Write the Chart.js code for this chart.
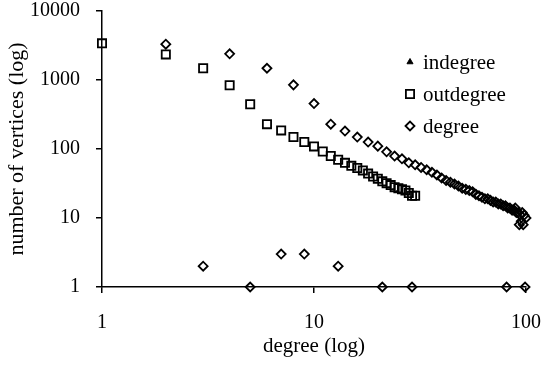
<!DOCTYPE html>
<html>
<head>
<meta charset="utf-8">
<script src="https://cdn.jsdelivr.net/npm/chart.js@4/dist/chart.umd.min.js"></script>
<style>
    html, body { margin: 0; padding: 0; background: #fff; }
    #wrap { width: 544px; height: 366px; }
</style>
</head>
<body>
<div id="wrap"><canvas id="degreeChart"></canvas></div>
<script>
// tick labels
const xTicks = [1, 10, 100];
const yTicks = [1, 10, 100, 1000, 10000];

// indegree: no marks visible in the picture, legend entry only
const indegX = [];
const indegY = [];

// outdegree, degree 1..30
const outdegX = [1, 2, 3, 4, 5, 6, 7, 8, 9, 10, 11, 12, 13, 14, 15, 16, 17, 18, 19, 20,
                 21, 22, 23, 24, 25, 26, 27, 28, 29, 30];
const outdegY = [3400, 2350, 1480, 840, 445, 229, 186, 149, 126, 109, 92, 79, 70, 63, 57, 53, 49, 44, 40, 37,
                 34, 32, 30, 28, 27, 26, 25, 23, 21, 21];

// degree (even degrees form the main line, plus the few odd ones)
const degX = [2, 4, 6, 8, 10, 12, 14, 16, 18, 20, 22, 24, 26, 28, 30, 32, 34, 36, 38, 40,
              42, 44, 46, 48, 50, 52, 54, 56, 58, 60, 62, 64, 66, 68, 70, 72, 74, 76, 78, 80,
              82, 84, 86, 88, 90, 92, 94, 96, 98, 100,
              3, 5, 7, 9, 13, 21, 29, 81, 99, 89, 93, 95, 97];
const degY = [3300, 2400, 1480, 850, 455, 229, 182, 149, 126, 110, 91, 79, 72, 63, 59, 54, 50, 46, 42, 38,
              35, 33, 31, 29, 27, 26, 25, 24, 22, 21, 20, 19, 19, 18, 17, 17, 16, 16, 15, 15,
              14, 14, 13, 13, 12, 12, 11, 12, 11, 10,
              2, 1, 3, 3, 2, 1, 1, 1, 1, 14, 8, 9, 8];

const toPoints = (xs, ys) => xs.map((x, i) => ({ x: x, y: ys[i] }));

const serif = '"Liberation Serif", "Times New Roman", serif';

const insideLegend = {
    id: 'insideLegend',
    afterDraw(chart) {
        const ctx = chart.ctx;
        const area = chart.chartArea;
        ctx.save();
        ctx.font = '21px ' + serif;
        ctx.textBaseline = 'middle';
        ctx.textAlign = 'left';
        chart.data.datasets.forEach((ds, i) => {
            const mx = area.right - 116;
            const my = area.top + 51 + i * 32;
            ctx.fillStyle = ds.pointBackgroundColor;
            ctx.strokeStyle = ds.pointBorderColor;
            ctx.lineWidth = ds.pointBorderWidth;
            Chart.helpers.drawPoint(ctx, {
                pointStyle: ds.pointStyle,
                radius: ds.pointRadius,
                borderWidth: ds.pointBorderWidth,
                rotation: 0
            }, mx, my);
            ctx.fillStyle = '#000';
            ctx.fillText(ds.label, mx + 13, my + 1);
        });
        ctx.restore();
    }
};

new Chart(document.getElementById('degreeChart'), {
    type: 'scatter',
    data: {
        datasets: [
            {
                label: 'indegree',
                data: toPoints(indegX, indegY),
                pointStyle: 'triangle',
                pointRadius: 3.5,
                pointBorderWidth: 1,
                pointBackgroundColor: '#000',
                pointBorderColor: '#000',
                clip: false
            },
            {
                label: 'outdegree',
                data: toPoints(outdegX, outdegY),
                pointStyle: 'rect',
                pointRadius: 5.8,
                pointBorderWidth: 1.8,
                pointBackgroundColor: 'rgba(0,0,0,0)',
                pointBorderColor: '#000',
                clip: false
            },
            {
                label: 'degree',
                data: toPoints(degX, degY),
                pointStyle: 'rectRot',
                pointRadius: 4.5,
                pointBorderWidth: 1.8,
                pointBackgroundColor: 'rgba(0,0,0,0)',
                pointBorderColor: '#000',
                clip: false
            }
        ]
    },
    options: {
        responsive: true,
        maintainAspectRatio: false,
        animation: false,
        events: [],
        layout: { padding: { left: 0, right: 18, top: 11, bottom: 0 } },
        plugins: {
            legend: { display: false },
            tooltip: { enabled: false }
        },
        scales: {
            x: {
                type: 'logarithmic',
                min: 1,
                max: 100,
                afterBuildTicks: (scale) => { scale.ticks = xTicks.map(v => ({ value: v })); },
                afterFit: (scale) => {
                    scale.height = 79;
                    scale.paddingLeft = 0;
                    scale.paddingRight = 0;
                },
                border: { display: true, color: '#000', width: 1.5 },
                grid: { display: true, drawOnChartArea: false, color: '#000', lineWidth: 1.5, tickLength: 6 },
                ticks: {
                    color: '#000',
                    font: { family: serif, size: 20 },
                    padding: 18,
                    maxRotation: 0,
                    autoSkip: false,
                    callback: (v) => String(v)
                },
                title: {
                    display: true,
                    text: 'degree (log)',
                    color: '#000',
                    font: { family: serif, size: 21 },
                    padding: { top: 0, bottom: 7 }
                }
            },
            y: {
                type: 'logarithmic',
                min: 1,
                max: 10000,
                afterBuildTicks: (scale) => { scale.ticks = yTicks.map(v => ({ value: v })); },
                afterFit: (scale) => {
                    scale.width = 102;
                    scale.paddingTop = 0;
                    scale.paddingBottom = 0;
                },
                border: { display: true, color: '#000', width: 1.5 },
                grid: { display: true, drawOnChartArea: false, color: '#000', lineWidth: 1.5, tickLength: 6 },
                ticks: {
                    color: '#000',
                    font: { family: serif, size: 20 },
                    padding: 16,
                    autoSkip: false,
                    callback: (v) => String(v)
                },
                title: {
                    display: true,
                    text: 'number of vertices (log)',
                    color: '#000',
                    font: { family: serif, size: 22 },
                    padding: { top: 4, bottom: 0 }
                }
            }
        }
    },
    plugins: [insideLegend]
});
</script>
</body>
</html>
